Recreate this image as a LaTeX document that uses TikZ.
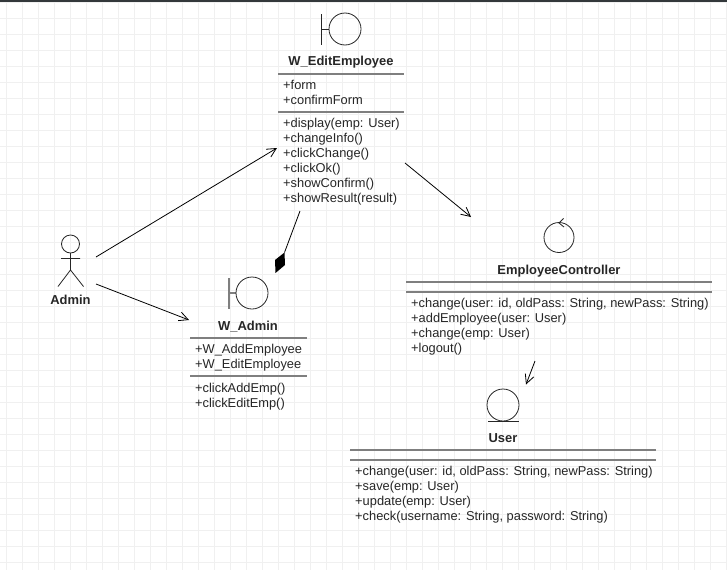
\documentclass[tikz,border=0pt]{standalone}
\usepackage{fontspec}
\setmainfont{Liberation Sans}
\usetikzlibrary{arrows.meta}
\definecolor{gridc}{HTML}{F0F0F0}
\definecolor{sepc}{HTML}{7F7F7F}
\definecolor{txtc}{HTML}{262626}
\definecolor{barc}{HTML}{33383B}
\tikzset{
  gridline/.style={draw=gridc,line width=1.2pt},
  sep/.style={draw=sepc,line width=1.7pt},
  title/.style={font=\fontsize{12.95}{15}\selectfont\bfseries,text=txtc,inner sep=0pt,anchor=center},
  items/.style={font=\fontsize{12.85}{15}\selectfont,text=txtc,inner sep=0pt,anchor=north west,align=left},
  icon/.style={draw=black!85,line width=0.8pt},
  assoc/.style={draw=black,line width=0.8pt,-{Straight Barb[length=9pt,width=9pt,line width=0.8pt]}},
  aggr/.style={draw=black,line width=0.8pt},
}
\begin{document}
\begin{tikzpicture}[x=1pt,y=-1pt]
\useasboundingbox (0,0) rectangle (727,570);
\fill[white] (0,0) rectangle (727,570);
\foreach \k in {0,...,45} {\draw[gridline] ({6.7+16*\k},0) -- ({6.7+16*\k},570);}
\foreach \k in {0,...,35} {\draw[gridline] (0,{2.3+16*\k}) -- (727,{2.3+16*\k});}
\fill[barc] (0,0) rectangle (727,2);

% W_EditEmployee
\draw[icon] (321,14) -- (321,44.5) (321,29) -- (329,29);
\draw[icon] (345,29) circle[radius=16];
\node[title] (editT) at (341,62.6) {W\_EditEmployee};
\draw[sep] (278,74) -- (404,74);
\node[items] (editA) at (283,80.4) {+form\\+confirmForm};
\draw[sep] (278,112) -- (404,112);
\node[items] (editM) at (283,118.4) {+display(emp: User)\\+changeInfo()\\+clickChange()\\+clickOk()\\+showConfirm()\\+showResult(result)};

% W_Admin
\draw[draw=sepc,line width=1.2pt] (229,278) -- (229,308.5) (229,293) -- (236,293);
\draw[icon] (252,293) circle[radius=16];
\node[title] (adminT) at (248,326.6) {W\_Admin};
\draw[sep] (190,338) -- (307,338);
\node[items] (adminA) at (195,344.4) {+W\_AddEmployee\\+W\_EditEmployee};
\draw[sep] (190,376) -- (307,376);
\node[items] (adminM) at (195,382.9) {+clickAddEmp()\\+clickEditEmp()};

% Actor
\draw[icon] (70.5,244) circle[radius=9];
\draw[icon] (70.5,253) -- (70.5,270) (61,258.5) -- (80,258.5) (58,286.5) -- (70.5,270) -- (83.5,286.5);
\node[title] (actorT) at (70.5,300.2) {Admin};

% EmployeeController
\draw[icon] (559,237.5) circle[radius=15];
\draw[icon] (563.5,218.5) -- (559,223) -- (564,227);
\node[title] (ctrlT) at (559,270.7) {EmployeeController};
\draw[sep] (406,282) -- (712,282);
\draw[sep] (406,292) -- (712,292);
\node[items] (ctrlM) at (411,298.4) {+change(user: id, oldPass: String, newPass: String)\\+addEmployee(user: User)\\+change(emp: User)\\+logout()};

% User
\draw[icon] (503,405) circle[radius=16];
\draw[icon] (488,421) -- (519,421);
\node[title] (userT) at (503,438) {User};
\draw[sep] (350,450) -- (656,450);
\draw[sep] (350,460) -- (656,460);
\node[items] (userM) at (355,466.4) {+change(user: id, oldPass: String, newPass: String)\\+save(emp: User)\\+update(emp: User)\\+check(username: String, password: String)};

% Connector ends
\coordinate (actorOutA) at (96,257);
\coordinate (editIn) at (277,148);
\coordinate (actorOutB) at (96,284);
\coordinate (adminIn) at (189,320);
\coordinate (editOut) at (405,163);
\coordinate (ctrlIn) at (471,217);
\coordinate (ctrlOut) at (535,361);
\coordinate (userIn) at (526,384.5);
\coordinate (editAgg) at (300,211);
\coordinate (dTop) at (284.5,252.5);
\coordinate (dRight) at (285,265);
\coordinate (dBottom) at (275.5,273);
\coordinate (dLeft) at (275,260);

\draw[assoc] (actorOutA) -- (editIn);
\draw[assoc] (actorOutB) -- (adminIn);
\draw[assoc] (editOut) -- (ctrlIn);
\draw[assoc] (ctrlOut) -- (userIn);
\draw[aggr] (editAgg) -- (dTop);
\fill[black] (dTop) -- (dRight) -- (dBottom) -- (dLeft) -- cycle;
\end{tikzpicture}
\end{document}
